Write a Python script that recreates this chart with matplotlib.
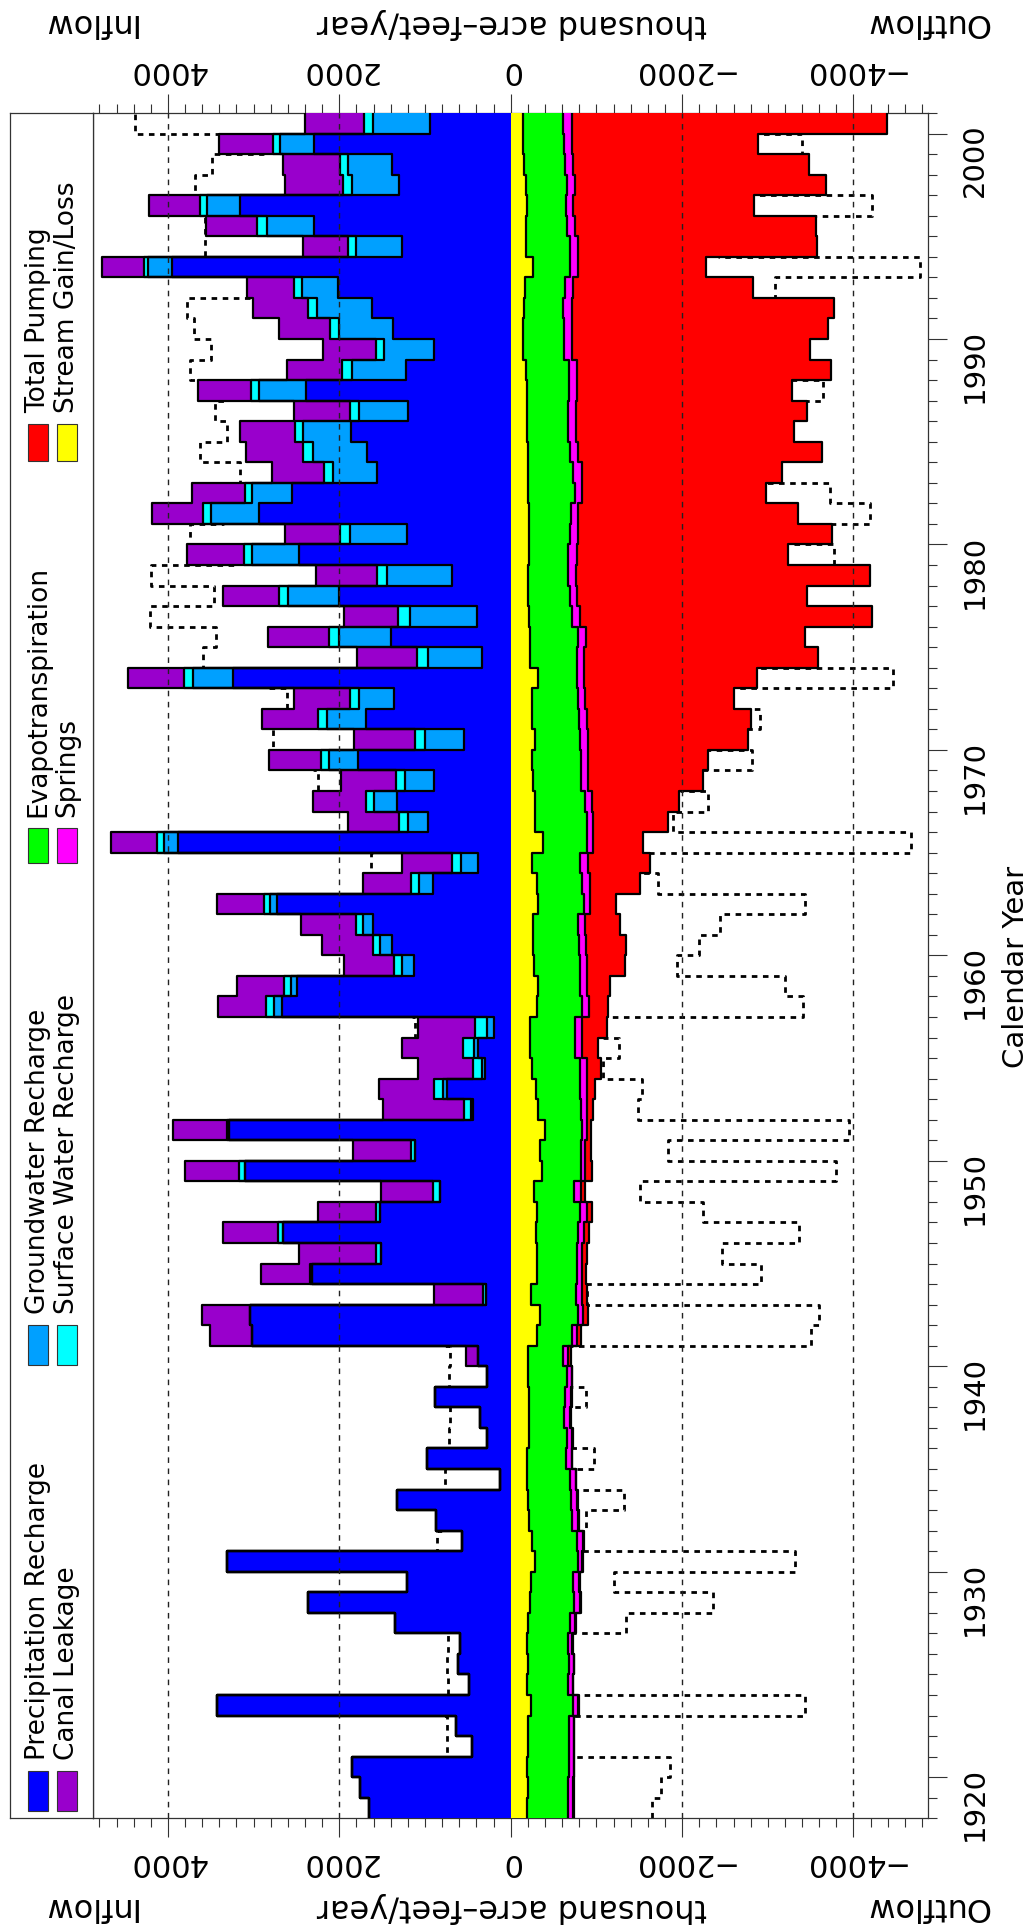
import numpy as np
import matplotlib
matplotlib.use("Agg")
import matplotlib.pyplot as plt
from matplotlib.patches import Rectangle
from matplotlib.ticker import MultipleLocator

# water budget, thousand acre-feet/year, calendar years 1918-2000
years = np.arange(1918, 2001)

# inflow terms
precip = [1649, 1758,
          1855, 447, 638, 3431, 482, 611, 591, 1350, 2361, 1206,
          3314, 572, 875, 1323, 124, 972, 280, 358, 883, 280,
          377, 3015, 3042, 288, 2322, 1517, 2653, 1525, 825, 3100,
          1116, 3283, 436, 747, 300, 377, 195, 2672, 2490, 1128,
          1389, 1610, 2723, 902, 377, 3878, 969, 1323, 895, 1778,
          545, 1688, 1358, 3244, 338, 1400, 397, 2000, 689, 2470,
          1214, 2937, 2548, 1564, 1680, 1867, 1194, 2392, 1225, 895,
          1377, 1622, 2011, 3956, 1264, 2291, 3159, 1299, 1389, 2295, 941]
groundwater = [0, 0,
               0, 0, 0, 0, 0, 0, 0, 0, 0, 0,
               0, 0, 0, 0, 0, 0, 0, 0, 0, 0,
               0, 0, 0, 0, 0, 0, 0, 0, 0, 0,
               0, 0, 30, 39, 39, 51, 86, 86, 74, 136,
               136, 109, 86, 163, 206, 167, 226, 268, 338, 342,
               455, 459, 412, 459, 630, 603, 778, 603, 759, 552,
               661, 564, 467, 506, 622, 560, 576, 541, 622, 584,
               626, 642, 428, 272, 541, 556, 389, 548, 506, 397, 669]
surface = [0, 0,
           0, 0, 0, 0, 0, 0, 0, 0, 0, 0,
           0, 0, 0, 0, 0, 0, 0, 0, 0, 0,
           0, 0, 0, 31, 19, 58, 66, 51, 78, 70,
           51, 31, 78, 105, 97, 124, 136, 97, 82, 93,
           86, 89, 70, 101, 97, 86, 105, 97, 109, 97,
           117, 105, 105, 105, 121, 117, 136, 97, 117, 89,
           117, 86, 86, 109, 117, 89, 105, 101, 117, 97,
           105, 97, 89, 47, 89, 109, 78, 113, 97, 86, 101]
canal = [0, 0,
         0, 0, 0, 0, 0, 0, 0, 0, 0, 0,
         0, 0, 0, 0, 0, 0, 0, 0, 0, 0,
         148, 494, 556, 572, 576, 895, 642, 669, 611, 630,
         669, 630, 945, 642, 642, 712, 669, 556, 552, 587,
         587, 638, 552, 552, 591, 537, 595, 615, 642, 599,
         708, 653, 653, 653, 708, 708, 630, 661, 712, 661,
         642, 603, 622, 611, 669, 642, 653, 611, 650, 611,
         591, 642, 552, 498, 533, 599, 591, 673, 661, 622, 689]

# outflow terms
stream = [195, 200,
          195, 205, 200, 240, 195, 200, 187, 206, 226, 237,
          284, 245, 214, 206, 187, 187, 214, 214, 214, 206,
          206, 303, 342, 237, 303, 303, 292, 303, 276, 362,
          342, 401, 323, 292, 245, 226, 226, 303, 323, 276,
          265, 265, 323, 303, 253, 381, 284, 284, 265, 253,
          284, 245, 245, 323, 226, 226, 214, 206, 206, 214,
          214, 214, 206, 206, 198, 187, 187, 187, 175, 148,
          148, 159, 167, 265, 175, 175, 187, 175, 159, 148, 148]
et = [475, 470,
      480, 470, 475, 490, 470, 475, 478, 486, 517, 494,
      498, 525, 506, 498, 506, 455, 443, 412, 420, 447,
      408, 408, 440, 525, 467, 467, 498, 506, 467, 459,
      479, 428, 498, 517, 564, 525, 525, 529, 486, 533,
      533, 525, 529, 533, 556, 506, 603, 584, 556, 568,
      525, 552, 537, 447, 545, 564, 498, 481, 467, 459,
      479, 490, 545, 525, 494, 486, 486, 494, 506, 478,
      478, 455, 467, 428, 517, 482, 455, 482, 475, 478, 467]
springs = [58, 58,
           58, 58, 58, 58, 58, 58, 54, 58, 66, 66,
           54, 78, 70, 66, 66, 70, 58, 66, 70, 58,
           58, 58, 66, 70, 66, 66, 62, 78, 78, 47,
           47, 58, 66, 78, 78, 78, 78, 78, 78, 78,
           78, 78, 78, 89, 89, 78, 78, 86, 86, 86,
           89, 97, 86, 89, 89, 86, 97, 89, 89, 97,
           97, 86, 86, 97, 97, 89, 89, 89, 89, 86,
           86, 97, 97, 97, 97, 97, 89, 97, 97, 86, 97]
pumping = [8, 8,
           8, 8, 8, 8, 8, 8, 8, 8, 12, 12,
           12, 12, 8, 12, 8, 8, 8, 12, 8, 8,
           31, 51, 51, 58, 43, 51, 66, 66, 47, 78,
           70, 51, 78, 97, 167, 187, 292, 226, 272, 447,
           467, 408, 303, 584, 727, 584, 875, 1004, 1342, 1393,
           1875, 1906, 1743, 2011, 2731, 2560, 3404, 2684, 3431, 2462,
           2956, 2567, 2140, 2334, 2840, 2548, 2692, 2517, 2968, 2781,
           2988, 3065, 2101, 1490, 2781, 2809, 2112, 2925, 2750, 2179, 3676]

W, H = 1036, 1933
fig = plt.figure(figsize=(W / 100, H / 100), dpi=100)

def fx(px):
    return px / W

def fy(py):
    return 1 - py / H

# plot box in pixels
L, R, T, B = 93.3, 928.3, 114.0, 1819.3
ax = fig.add_axes([fx(L), fy(B), (R - L) / W, (B - T) / H])

edges = np.append(years, years[-1] + 1)
ys = np.repeat(edges, 2)[1:-1]

def outline(v):
    return np.repeat(v, 2)

def steps(v):
    return np.append(v, v[-1])

n = len(years)
inflow = [(precip, "#0000ff"), (groundwater, "#00a0ff"),
          (surface, "#00ffff"), (canal, "#9900cc")]
outflow = [(stream, "#ffff00"), (et, "#00ff00"),
           (springs, "#ff00ff"), (pumping, "#ff0000")]

base = np.zeros(n)
for vals, c in inflow:
    top = base + np.array(vals)
    ax.fill_betweenx(edges, steps(base), steps(top), step="post",
                     facecolor=c, edgecolor="none", zorder=3)
    ax.plot(outline(top), ys, color="black", lw=1.6, zorder=4)
    base = top
total_in = base

base = np.zeros(n)
for vals, c in outflow:
    top = base - np.array(vals)
    ax.fill_betweenx(edges, steps(base), steps(top), step="post",
                     facecolor=c, edgecolor="none", zorder=3)
    ax.plot(outline(top), ys, color="black", lw=1.6, zorder=4)
    base = top
total_out = base

# mirrored totals
ax.plot(outline(-total_out), ys, color="black", lw=2.0,
        ls=(0, (2, 2)), zorder=2)
ax.plot(outline(-total_in), ys, color="black", lw=2.0,
        ls=(0, (2, 2)), zorder=2)

for v in [4000, 2000, -2000, -4000]:
    ax.axvline(v, color="#222222", lw=1.0, ls=(0, (4, 4)), zorder=5)

ax.set_xlim(4871, -4873)
ax.set_ylim(1918, 2001)
ax.xaxis.set_major_locator(MultipleLocator(2000))
ax.xaxis.set_minor_locator(MultipleLocator(200))
ax.yaxis.set_major_locator(MultipleLocator(10))
ax.yaxis.set_minor_locator(MultipleLocator(1))
ax.tick_params(axis="x", which="both", direction="out", top=True, bottom=True,
               labeltop=True, labelbottom=True, labelrotation=180,
               labelsize=22, pad=7, width=0.8, color="#333333")
ax.tick_params(axis="y", which="both", direction="out", left=False, right=True,
               labelleft=False, labelright=True, labelrotation=90,
               labelsize=21, pad=10, width=0.8, color="#333333")
ax.tick_params(which="major", length=13.7)
ax.tick_params(which="minor", length=6.5)
for s in ax.spines.values():
    s.set_linewidth(0.9)
    s.set_color("#333333")

# axis titles
for yy in (23, 1907):
    fig.text(fx(88), fy(yy), "Inflow", rotation=180, ha="center", va="center", fontsize=23)
    fig.text(fx(512), fy(yy), "thousand acre\u2013feet/year", rotation=180,
             ha="center", va="center", fontsize=23)
    fig.text(fx(927), fy(yy), "Outflow", rotation=180, ha="center", va="center", fontsize=23)
fig.text(fx(1016), fy((T + B) / 2), "Calendar Year", rotation=90,
         ha="center", va="center", fontsize=21)

# legend box
lax = fig.add_axes([fx(10), fy(B), (L - 10) / W, (B - T) / H])
lax.set_xlim(10, L)
lax.set_ylim(B, T)
lax.set_xticks([])
lax.set_yticks([])
for s in lax.spines.values():
    s.set_linewidth(0.9)
    s.set_color("#333333")

legend_rows = [
    (1772, 1812, "Precipitation Recharge", "Canal Leakage", "#0000ff", "#9900cc"),
    (1326, 1366, "Groundwater Recharge", "Surface Water Recharge", "#00a0ff", "#00ffff"),
    (829, 864, "Evapotranspiration", "Springs", "#00ff00", "#ff00ff"),
    (425, 462, "Total Pumping", "Stream Gain/Loss", "#ff0000", "#ffff00"),
]
for y0, y1, t1, t2, c1, c2 in legend_rows:
    for xc, txt, col in ((38, t1, c1), (67, t2, c2)):
        lax.add_patch(Rectangle((xc - 10, y0), 20, y1 - y0, facecolor=col,
                                edgecolor="#333333", lw=0.8))
        lax.text(xc, y0 - 12, txt, rotation=90, ha="center", va="bottom",
                 fontsize=19)

fig.savefig("out.png", dpi=100)
